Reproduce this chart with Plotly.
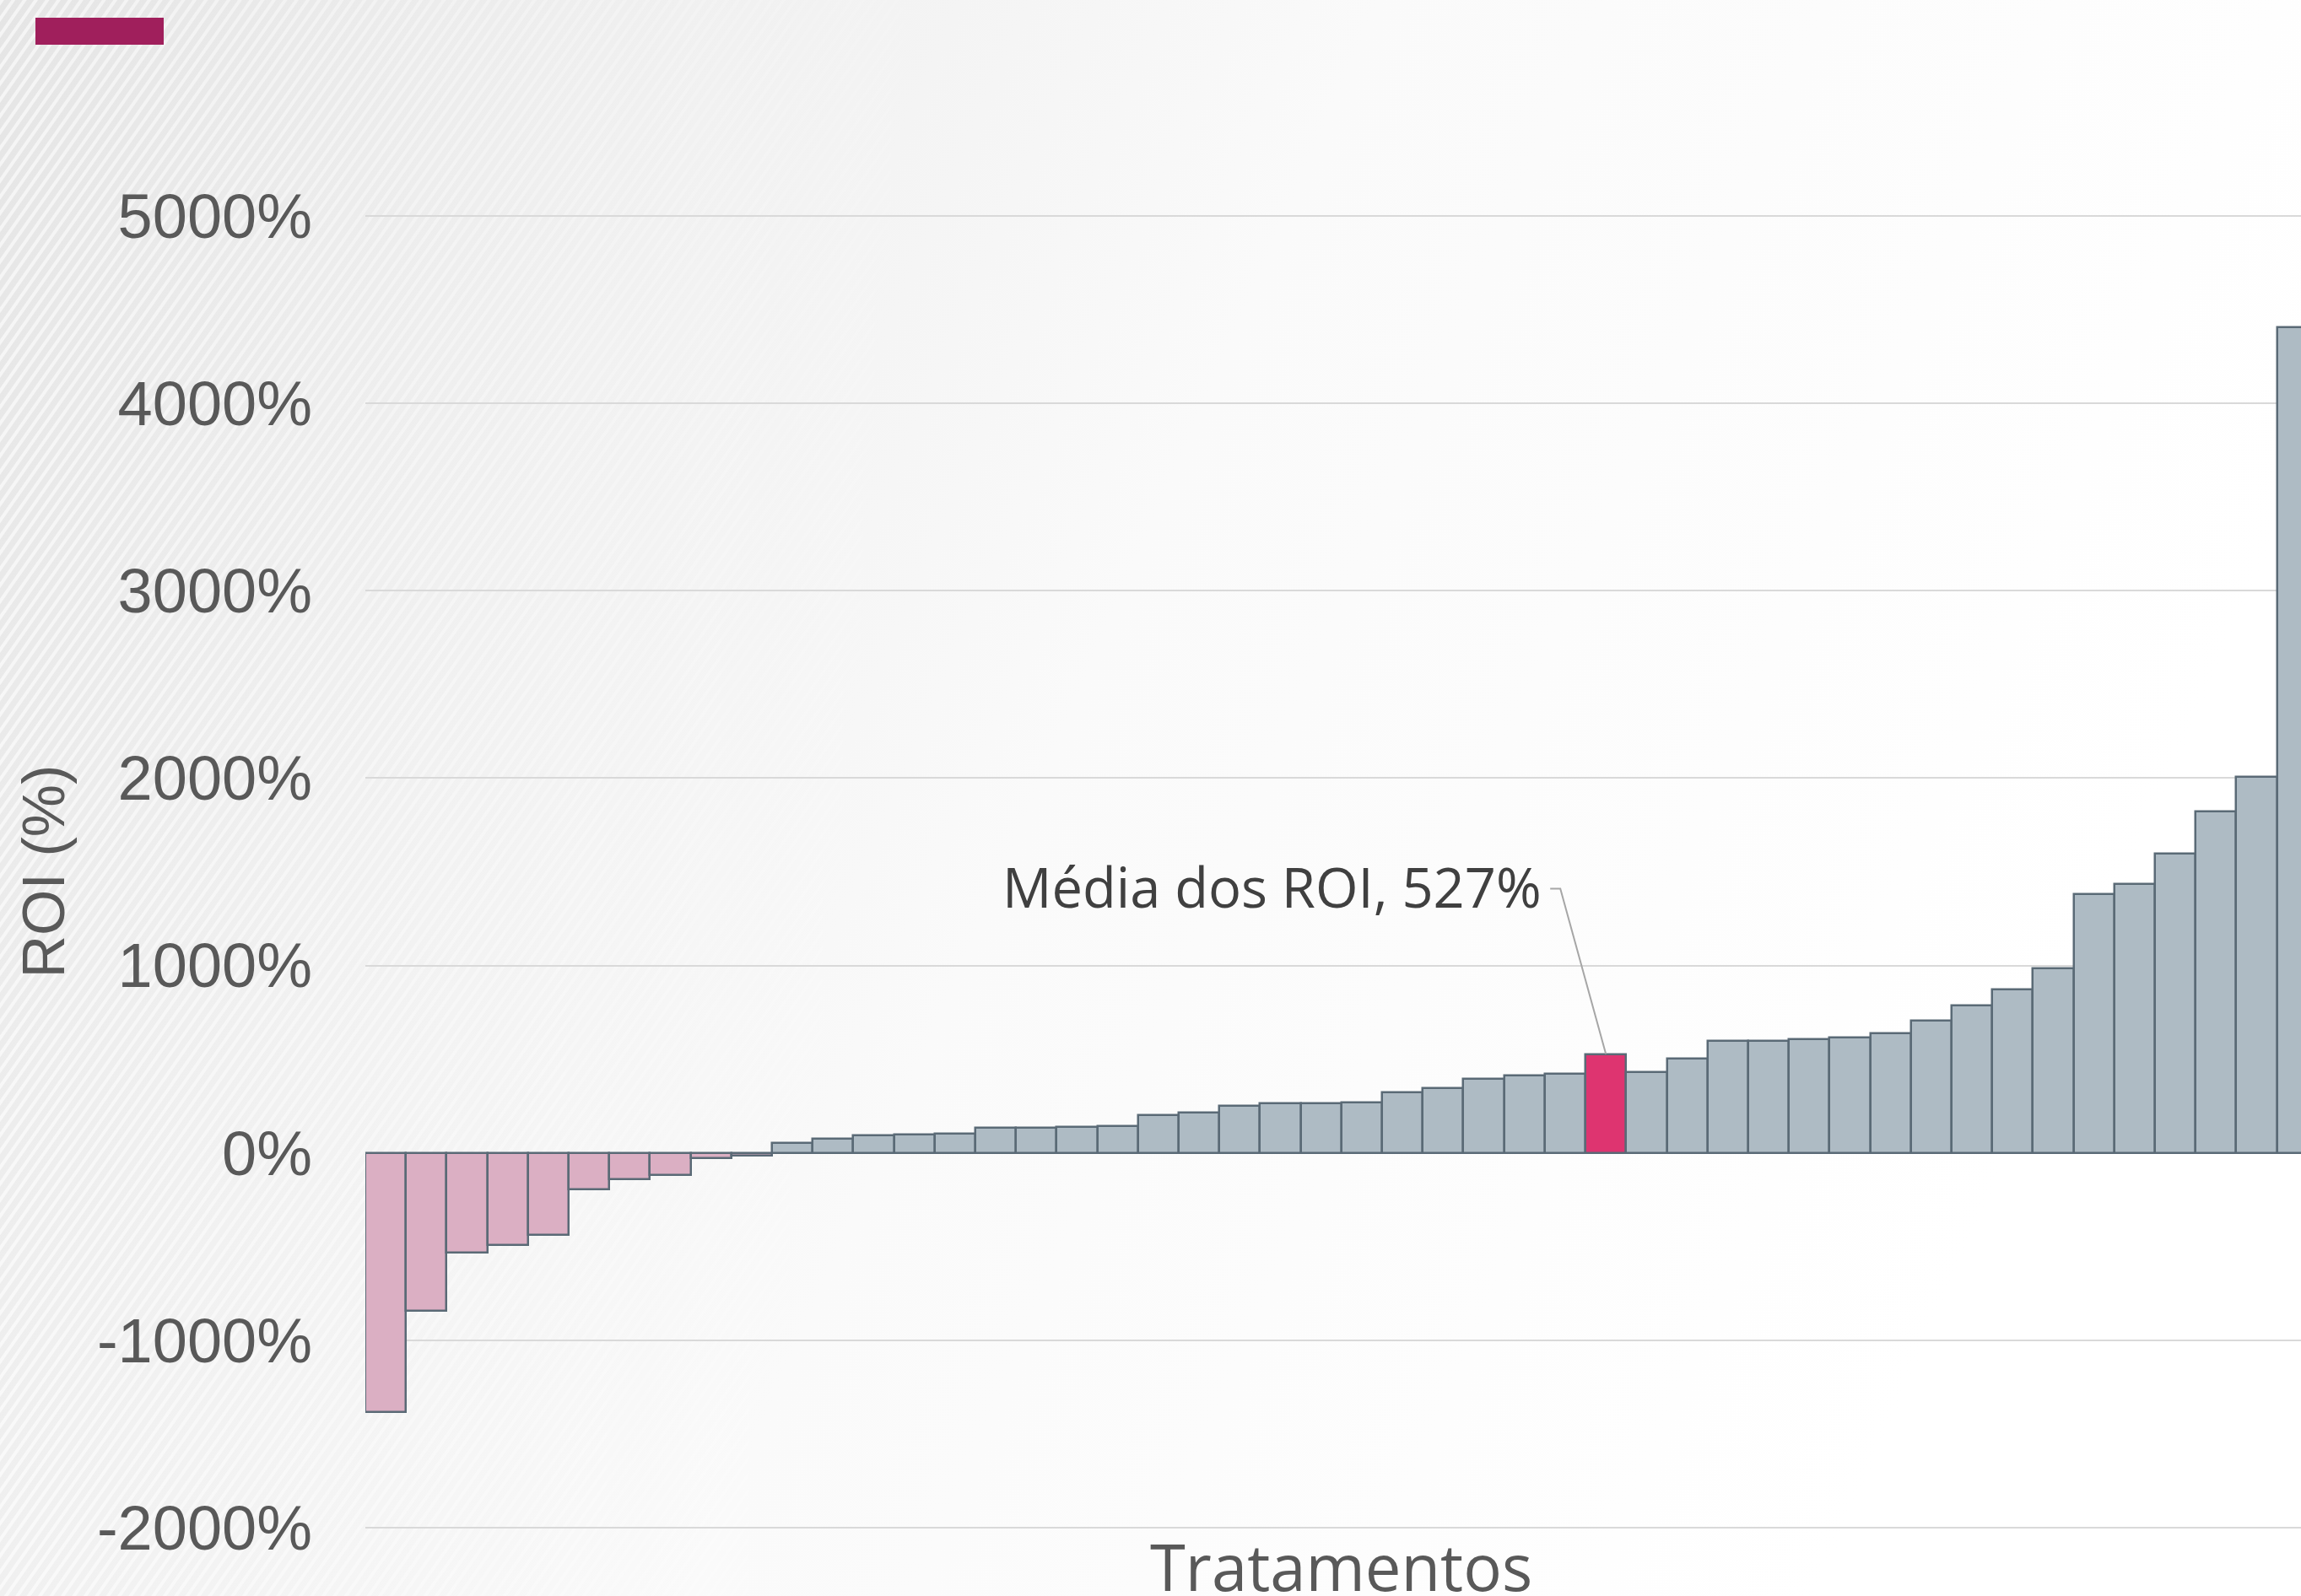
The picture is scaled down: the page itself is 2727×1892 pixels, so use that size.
import base64
import plotly.graph_objects as go

# ---------------- data ----------------
categories = [f"T{i}" for i in range(1, 31)] + ["Média dos ROI"] + [f"T{i}" for i in range(31, 48)]
roi_values = [
    -1384, -843, -532, -492, -437, -195, -141, -119, -29, -17,
    52, 74, 94, 97, 100, 133, 133, 138, 141, 202,
    213, 252, 265, 265, 270, 321, 343, 393, 411, 421,
    527,
    432, 501, 595, 597, 606, 614, 639, 707, 785,
    874, 985, 1380, 1433, 1597, 1823, 2006, 4408,
]
mean_label = "Média dos ROI"
mean_value = 527
y_tick_values = [-2000, -1000, 0, 1000, 2000, 3000, 4000, 5000]
y_tick_labels = ["-2000%", "-1000%", "0%", "1000%", "2000%", "3000%", "4000%", "5000%"]

# ---------------- styles ----------------
NEG = "#DBAFC3"
POS = "#AEBBC4"
MEAN = "#DE3470"
EDGE = "#5A6A76"
TXT = "#595959"

colors = [MEAN if c == mean_label else (NEG if v < 0 else POS) for c, v in zip(categories, roi_values)]
mean_idx = categories.index(mean_label)

W, H = 2727, 1892
L, R, T, B = 433, 0, 254, 79
pw, ph = W - L - R, H - T - B

svg = f"""<svg xmlns='http://www.w3.org/2000/svg' width='{W}' height='{H}' viewBox='0 0 {W} {H}' preserveAspectRatio='none'>
<defs>
<linearGradient id='g' x1='0' y1='0' x2='1' y2='0.3'>
<stop offset='0' stop-color='#E5E5E5'/>
<stop offset='0.3' stop-color='#F1F1F1'/>
<stop offset='0.55' stop-color='#FAFAFA'/>
<stop offset='1' stop-color='#FFFFFF'/>
</linearGradient>
<linearGradient id='mg' x1='0' y1='0' x2='1' y2='0'>
<stop offset='0' stop-color='#FFFFFF' stop-opacity='1'/>
<stop offset='0.45' stop-color='#FFFFFF' stop-opacity='0'/>
</linearGradient>
<mask id='m'><rect width='{W}' height='{H}' fill='url(#mg)'/></mask>
<pattern id='p' width='11' height='11' patternUnits='userSpaceOnUse' patternTransform='rotate(35)'>
<rect width='4' height='11' fill='#FFFFFF' fill-opacity='0.6'/>
</pattern>
</defs>
<rect width='{W}' height='{H}' fill='url(#g)'/>
<rect width='{W}' height='{H}' fill='url(#p)' mask='url(#m)'/>
<rect x='42' y='21' width='152' height='32' fill='#A01F5C'/>
</svg>"""
bg_uri = "data:image/svg+xml;base64," + base64.b64encode(svg.encode("utf-8")).decode("ascii")

fig = go.Figure(
    go.Bar(
        x=categories,
        y=roi_values,
        marker=dict(color=colors, line=dict(color=EDGE, width=2.5)),
        hoverinfo="x+y",
    )
)

fig.update_layout(
    width=W,
    height=H,
    margin=dict(l=L, r=R, t=T, b=B, autoexpand=False),
    paper_bgcolor="rgba(0,0,0,0)",
    plot_bgcolor="rgba(0,0,0,0)",
    bargap=0,
    showlegend=False,
    images=[
        dict(
            source=bg_uri,
            xref="paper", yref="paper",
            x=-L / pw, y=1 + T / ph,
            sizex=W / pw, sizey=H / ph,
            xanchor="left", yanchor="top",
            sizing="stretch", layer="below",
        )
    ],
    xaxis=dict(
        type="category",
        range=[-0.5, 47.09],
        showticklabels=False,
        showgrid=False,
        zeroline=False,
        showline=False,
        ticks="",
    ),
    yaxis=dict(
        range=[-2010, 5010],
        tickvals=y_tick_values,
        ticktext=y_tick_labels,
        tickfont=dict(family="Liberation Sans, Arial", size=74, color=TXT),
        showgrid=True,
        gridcolor="#D9D9D9",
        gridwidth=2,
        zeroline=False,
        showline=False,
        ticks="",
        ticklabelstandoff=62,
    ),
    annotations=[
        dict(
            x=mean_idx, y=mean_value, xref="x", yref="y",
            text=f"Média dos ROI, {mean_value}%",
            showarrow=False, xanchor="right", yanchor="middle",
            xshift=-74, yshift=199,
            font=dict(family="Open Sans", size=65, color="#404040"),
        ),
        dict(
            x=(len(categories) - 1) / 2, y=-(1856 - (T + ph)) / ph,
            xref="x", yref="paper",
            text="Tratamentos", showarrow=False,
            xanchor="center", yanchor="middle",
            font=dict(family="Open Sans", size=76, color=TXT),
        ),
        dict(
            x=(51 - L) / pw, y=0.5, xref="paper", yref="paper",
            text="ROI (%)", showarrow=False, textangle=-90,
            xanchor="center", yanchor="middle",
            font=dict(family="Liberation Sans, Arial", size=70, color=TXT),
        ),
    ],
    shapes=[
        dict(
            type="path", xref="x", yref="y",
            xsizemode="pixel", ysizemode="pixel",
            xanchor=mean_idx, yanchor=mean_value,
            path="M-66,196 L-54,196 L0,0",
            line=dict(color="#A6A6A6", width=2),
            layer="above",
        )
    ],
)

fig.write_html(
    "out.html",
    config={"displayModeBar": False},
    post_script="document.body.style.margin='0';document.body.style.padding='0';document.body.style.overflow='hidden';",
)
